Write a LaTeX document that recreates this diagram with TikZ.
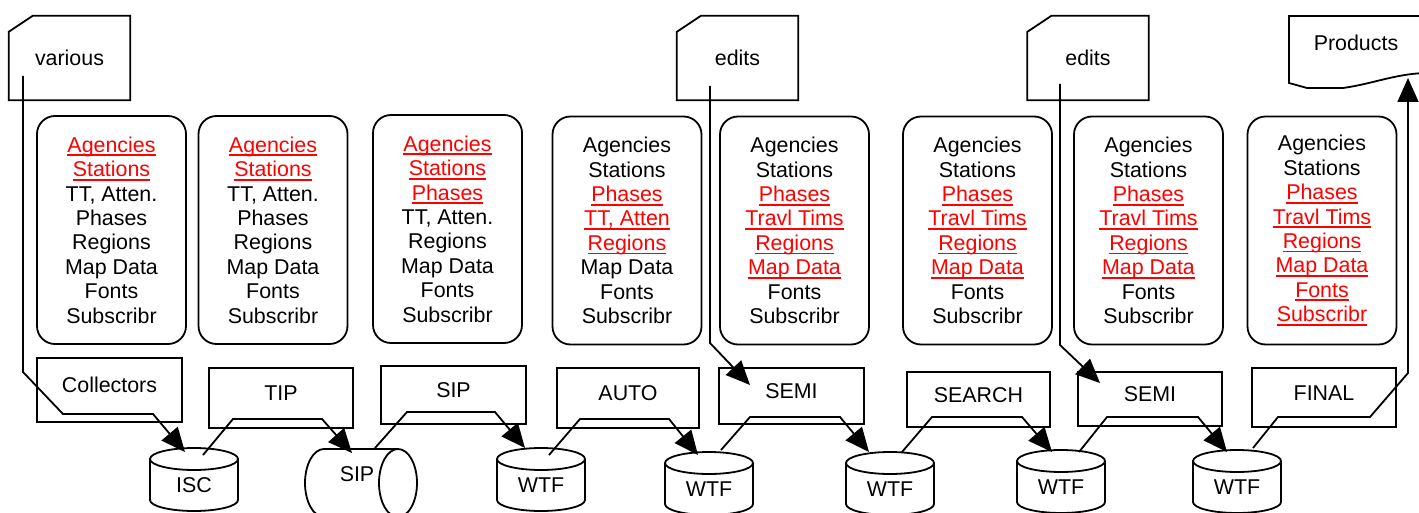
\documentclass[tikz,border=0pt]{standalone}
\usepackage{fontspec}
\setmainfont{Liberation Sans}
\usetikzlibrary{arrows.meta,calc}

% red underlined entry
\newcommand{\chg}[1]{{\color{red}\setbox0\hbox{#1}\rlap{\rule[-4pt]{\wd0}{1.8pt}}\box0}}

\tikzset{
  boxline/.style={line width=1.8pt},
  every node/.style={font=\fontsize{21.4}{24.4}\selectfont},
  tablebox/.style={boxline, draw, rounded corners=18pt, minimum width=149pt, minimum height=228pt, align=center, inner sep=0pt},
  procbox/.style={boxline, draw, minimum width=144pt, minimum height=58pt, text height=15pt, text depth=10pt, inner sep=0pt},
  card/.style={minimum width=121pt, minimum height=84pt, inner sep=0pt},
  store/.style={inner sep=0pt},
  flow/.style={line width=1.8pt, -{Triangle[length=24pt,width=21pt]}},
}

\begin{document}
\begin{tikzpicture}[x=1pt,y=-1pt]
\useasboundingbox (0,0) rectangle (1419,513);

% input cards
\node[card] (various) at (69.5,58) {various};
\node[card] (editsA) at (737.5,58) {edits};
\node[card] (editsB) at (1088,58) {edits};
\foreach \c in {various,editsA,editsB}
  \draw[boxline] ([xshift=24pt]\c.north west) -- (\c.north east) -- (\c.south east) -- (\c.south west) -- ([yshift=-16pt]\c.north west) -- cycle;

% output document
\node (products) at (1356,43) {Products};
\draw[boxline] (1425,16) -- (1289,16) -- (1289,83) -- (1307,88) -- (1343,88) .. controls (1372,84) and (1395,74) .. (1425,73);
\coordinate (prodin) at (1408,78);

% tables
\node[tablebox] (tabA) at (111.5,230) {\chg{Agencies}\\ \chg{Stations}\\ TT, Atten.\\ Phases\\ Regions\\ Map Data\\ Fonts\\ Subscribr};
\node[tablebox] (tabB) at (273,230) {\chg{Agencies}\\ \chg{Stations}\\ TT, Atten.\\ Phases\\ Regions\\ Map Data\\ Fonts\\ Subscribr};
\node[tablebox] (tabC) at (447.5,229) {\chg{Agencies}\\ \chg{Stations}\\ \chg{Phases}\\ TT, Atten.\\ Regions\\ Map Data\\ Fonts\\ Subscribr};
\node[tablebox] (tabD) at (627,230.5) {Agencies\\ Stations\\ \chg{Phases}\\ \chg{TT, Atten}\\ \chg{Regions}\\ Map Data\\ Fonts\\ Subscribr};
\node[tablebox] (tabE) at (794.5,230.5) {Agencies\\ Stations\\ \chg{Phases}\\ \chg{Travl Tims}\\ \chg{Regions}\\ \chg{Map Data}\\ Fonts\\ Subscribr};
\node[tablebox] (tabF) at (977.5,230.5) {Agencies\\ Stations\\ \chg{Phases}\\ \chg{Travl Tims}\\ \chg{Regions}\\ \chg{Map Data}\\ Fonts\\ Subscribr};
\node[tablebox] (tabG) at (1148.5,230.5) {Agencies\\ Stations\\ \chg{Phases}\\ \chg{Travl Tims}\\ \chg{Regions}\\ \chg{Map Data}\\ Fonts\\ Subscribr};
\node[tablebox] (tabH) at (1322,230.5) {Agencies\\ Stations\\ \chg{Phases}\\ \chg{Travl Tims}\\ \chg{Regions}\\ \chg{Map Data}\\ \chg{Fonts}\\ \chg{Subscribr}};

% processes
\node[procbox,minimum width=145pt,minimum height=64pt] (collectors) at (109.5,390) {Collectors};
\node[procbox,minimum height=60pt] (tip) at (281,398) {TIP};
\node[procbox,minimum width=145pt] (sipproc) at (453.5,395) {SIP};
\node[procbox,minimum width=142pt,minimum height=60pt] (auto) at (628,398) {AUTO};
\node[procbox,minimum width=145pt,minimum height=56pt] (semiA) at (791.5,396) {SEMI};
\node[procbox,minimum width=143pt,minimum height=55pt] (search) at (978.5,399.5) {SEARCH};
\node[procbox,minimum height=54pt] (semiB) at (1150,399) {SEMI};
\node[procbox,minimum height=59pt] (final) at (1324,397.5) {FINAL};

% stores
\node[store] (isc) at (194,485) {ISC};
\node[store] (sipdb) at (357,474) {SIP};
\node[store] (wtfA) at (541,485) {WTF};
\node[store] (wtfB) at (709,489) {WTF};
\node[store] (wtfC) at (890,489) {WTF};
\node[store] (wtfD) at (1061,487) {WTF};
\node[store] (wtfE) at (1237,487) {WTF};
\foreach \s in {isc,wtfA,wtfB,wtfC,wtfD,wtfE}{
  \draw[boxline] ($(\s)+(-44,-26)$) -- ($(\s)+(-44,15)$) arc[start angle=180,end angle=0,x radius=44,y radius=11] -- ($(\s)+(44,-26)$);
  \draw[boxline] ($(\s)+(0,-26)$) ellipse[x radius=44,y radius=11];
}
\draw[boxline] ($(sipdb)+(41,-25)$) -- ($(sipdb)+(-33,-25)$) arc[start angle=270,end angle=90,x radius=19,y radius=34] -- ($(sipdb)+(41,43)$);
\draw[boxline] ($(sipdb)+(41,9)$) ellipse[x radius=19,y radius=34];

% flows
\draw[flow] ($(various)+(-46.5,18)$) -- (23,372) -- (63,414) -- (153,414) -- ($(isc)+(-9,-33)$);
\draw[flow] ($(isc)+(9,-30)$) -- (233,419) -- (322,419) -- ($(sipdb)+(-5,-21)$);
\draw[flow] ($(sipdb)+(18,-26)$) -- (407,412) -- (495,412) -- ($(wtfA)+(-16,-37)$);
\draw[flow] ($(wtfA)+(8,-30)$) -- (580,419) -- (669,419) -- ($(wtfB)+(-11,-34)$);
\draw[flow] ($(wtfB)+(12,-39)$) -- (750,417) -- (840,417) -- ($(wtfC)+(-21,-37)$);
\draw[flow] ($(wtfC)+(12,-37)$) -- (932,417) -- (1022,417) -- ($(wtfD)+(-9,-35)$);
\draw[flow] ($(wtfD)+(18,-35)$) -- (1107,417) -- (1198,417) -- ($(wtfE)+(-10,-35)$);
\draw[flow] ($(wtfE)+(16,-39)$) -- (1278,417) -- (1370,417) -- (1408,373) -- (prodin);
\draw[flow] ($(editsA)+(-27.5,28)$) -- (710,343) -- ($(semiA)+(-41.5,-11)$);
\draw[flow] ($(editsB)+(-28,26)$) -- (1060,345) -- ($(semiB)+(-50,-16)$);
\end{tikzpicture}
\end{document}
